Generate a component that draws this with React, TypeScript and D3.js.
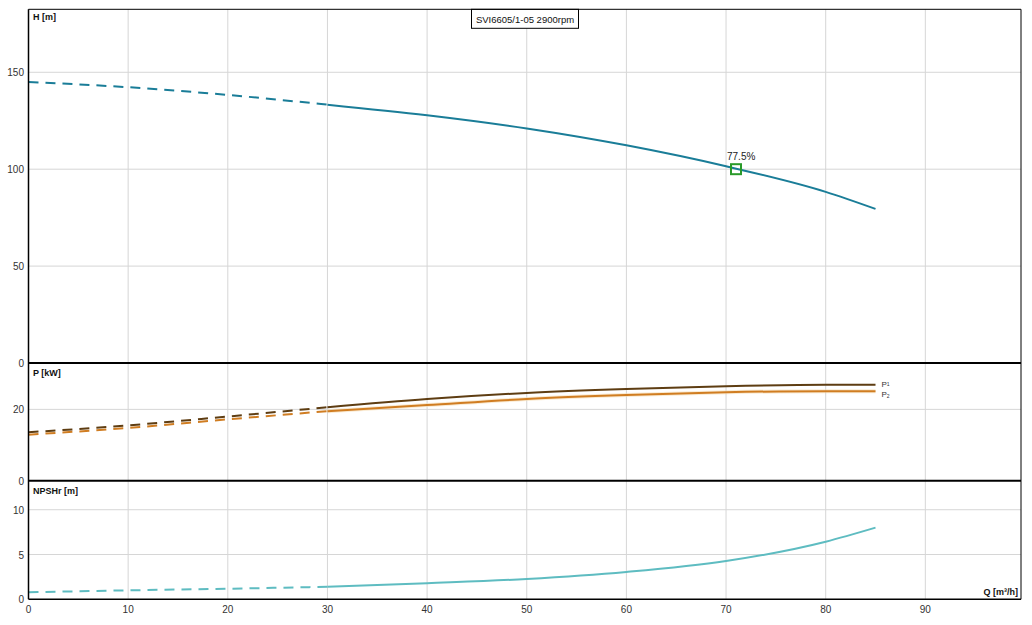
import React from "react";
import * as d3 from "d3";

const Q = [0, 10, 20, 30, 40, 50, 60, 70, 80, 85];
const H = [145, 142.3, 138.3, 133.3, 127.8, 121, 112.3, 101.5, 88.3, 79.5];
const P1 = [13.6, 15.5, 18.0, 20.6, 22.9, 24.6, 25.7, 26.5, 26.9, 26.9];
const P2 = [12.9, 14.8, 17.2, 19.5, 21.2, 22.9, 24.0, 24.8, 25.1, 25.1];
const NPSH = [0.78, 1.0, 1.18, 1.4, 1.8, 2.27, 3.05, 4.27, 6.43, 8.0];
const xTicks = [0, 10, 20, 30, 40, 50, 60, 70, 80, 90];
const hTicks = [0, 50, 100, 150];
const pTicks = [0, 20];
const nTicks = [0, 5, 10];
const dashEnd = 30;
const duty = { q: 71, h: 100, eff: "77.5%" };
const title = "SVI6605/1-05 2900rpm";

const W = 1032, HH = 625;
const L = 28.5, R = 1021;
const x = d3.scaleLinear().domain([0, 99.6]).range([L, R]);
const yH = d3.scaleLinear().domain([0, 182.5]).range([363, 9.3]);
const yP = d3.scaleLinear().domain([0, 33]).range([480.7, 363]);
const yN = d3.scaleLinear().domain([0, 13.24]).range([599.3, 480.7]);

const font = "Liberation Sans, Arial, sans-serif";

function Curve({ vals, y, color, glow }: { vals: number[]; y: d3.ScaleLinear<number, number>; color: string; glow?: string }) {
  const pts: [number, number][] = Q.map((q, i) => [q, vals[i]]);
  const gen = d3.line<[number, number]>().x(d => x(d[0])).y(d => y(d[1])).curve(d3.curveMonotoneX);
  const dashed = pts.filter(p => p[0] <= dashEnd);
  const solid = pts.filter(p => p[0] >= dashEnd);
  return (
    <g fill="none">
      {glow && <path d={gen(solid) || ""} stroke={glow} strokeWidth={4} opacity={0.5} />}
      <path d={gen(dashed) || ""} stroke={color} strokeWidth={2} strokeDasharray="10 7" />
      <path d={gen(solid) || ""} stroke={color} strokeWidth={2} />
    </g>
  );
}

function YAxis({ y, ticks }: { y: d3.ScaleLinear<number, number>; ticks: number[] }) {
  return (
    <g>
      {ticks.filter(t => t !== 0).map(t => (
        <line key={"g" + t} x1={L} x2={R} y1={y(t)} y2={y(t)} stroke="#d6d6d6" strokeWidth={1} />
      ))}
      {ticks.map(t => (
        <text key={"t" + t} x={24} y={y(t) + 4} textAnchor="end" fontSize={10} fontFamily={font} fill="#333">{t}</text>
      ))}
    </g>
  );
}

export default function App() {
  const [r0, r1] = yH.range();
  return (
    <svg width={W} height={HH} style={{ position: "absolute", left: 0, top: 0, background: "#fff" }}>
      <rect x={0} y={0} width={W} height={HH} fill="#fff" />
      {xTicks.filter(t => t !== 0).map(t => (
        <line key={t} x1={x(t)} x2={x(t)} y1={yH.range()[1]} y2={yN.range()[0]} stroke="#d6d6d6" strokeWidth={1} />
      ))}
      <YAxis y={yH} ticks={hTicks} />
      <YAxis y={yP} ticks={pTicks} />
      <YAxis y={yN} ticks={nTicks} />
      {xTicks.map(t => (
        <text key={t} x={x(t)} y={613} textAnchor="middle" fontSize={10} fontFamily={font} fill="#333">{t}</text>
      ))}

      <Curve vals={H} y={yH} color="#1a7d98" />
      <Curve vals={P1} y={yP} color="#5e3d12" />
      <Curve vals={P2} y={yP} color="#d07d22" glow="#f5d7a8" />
      <Curve vals={NPSH} y={yN} color="#5ebcc1" />

      <rect x={x(duty.q) - 5} y={yH(duty.h) - 5} width={10} height={10} fill="none" stroke="#2a9a2a" strokeWidth={2} />
      <text x={x(duty.q) - 9} y={yH(duty.h) - 9} fontSize={10} fontFamily={font} fill="#222">{duty.eff}</text>

      <text x={x(85) + 6} y={yP(P1[P1.length - 1]) + 2} fontSize={8} fontFamily={font} fill="#333">P<tspan fontSize={5} dy={-1}>1</tspan></text>
      <text x={x(85) + 6} y={yP(P2[P2.length - 1]) + 6} fontSize={8} fontFamily={font} fill="#333">P<tspan fontSize={5} dy={1}>2</tspan></text>

      <rect x={471.5} y={9.3} width={107} height={19} fill="#fff" stroke="#000" strokeWidth={1} />
      <text x={525} y={22.5} textAnchor="middle" fontSize={9.5} fontFamily={font} fill="#111">{title}</text>

      <text x={33} y={20} fontSize={9} fontWeight="bold" fontFamily={font} fill="#111">H [m]</text>
      <text x={33} y={yP.range()[1] + 13} fontSize={9} fontWeight="bold" fontFamily={font} fill="#111">P [kW]</text>
      <text x={33} y={yN.range()[1] + 13} fontSize={9} fontWeight="bold" fontFamily={font} fill="#111">NPSHr [m]</text>
      <text x={R - 3} y={595} textAnchor="end" fontSize={9} fontWeight="bold" fontFamily={font} fill="#111">Q [m³/h]</text>

      <line x1={L} x2={R} y1={r1} y2={r1} stroke="#000" strokeWidth={1} />
      <line x1={R} x2={R} y1={r1} y2={yN.range()[0]} stroke="#000" strokeWidth={1} />
      <line x1={L} x2={R} y1={r0} y2={r0} stroke="#000" strokeWidth={2} />
      <line x1={L} x2={R} y1={yP.range()[0]} y2={yP.range()[0]} stroke="#000" strokeWidth={2} />
      <line x1={L} x2={R} y1={yN.range()[0]} y2={yN.range()[0]} stroke="#000" strokeWidth={1.5} />
      <line x1={L} x2={L} y1={r1} y2={yN.range()[0]} stroke="#000" strokeWidth={1.5} />
    </svg>
  );
}
